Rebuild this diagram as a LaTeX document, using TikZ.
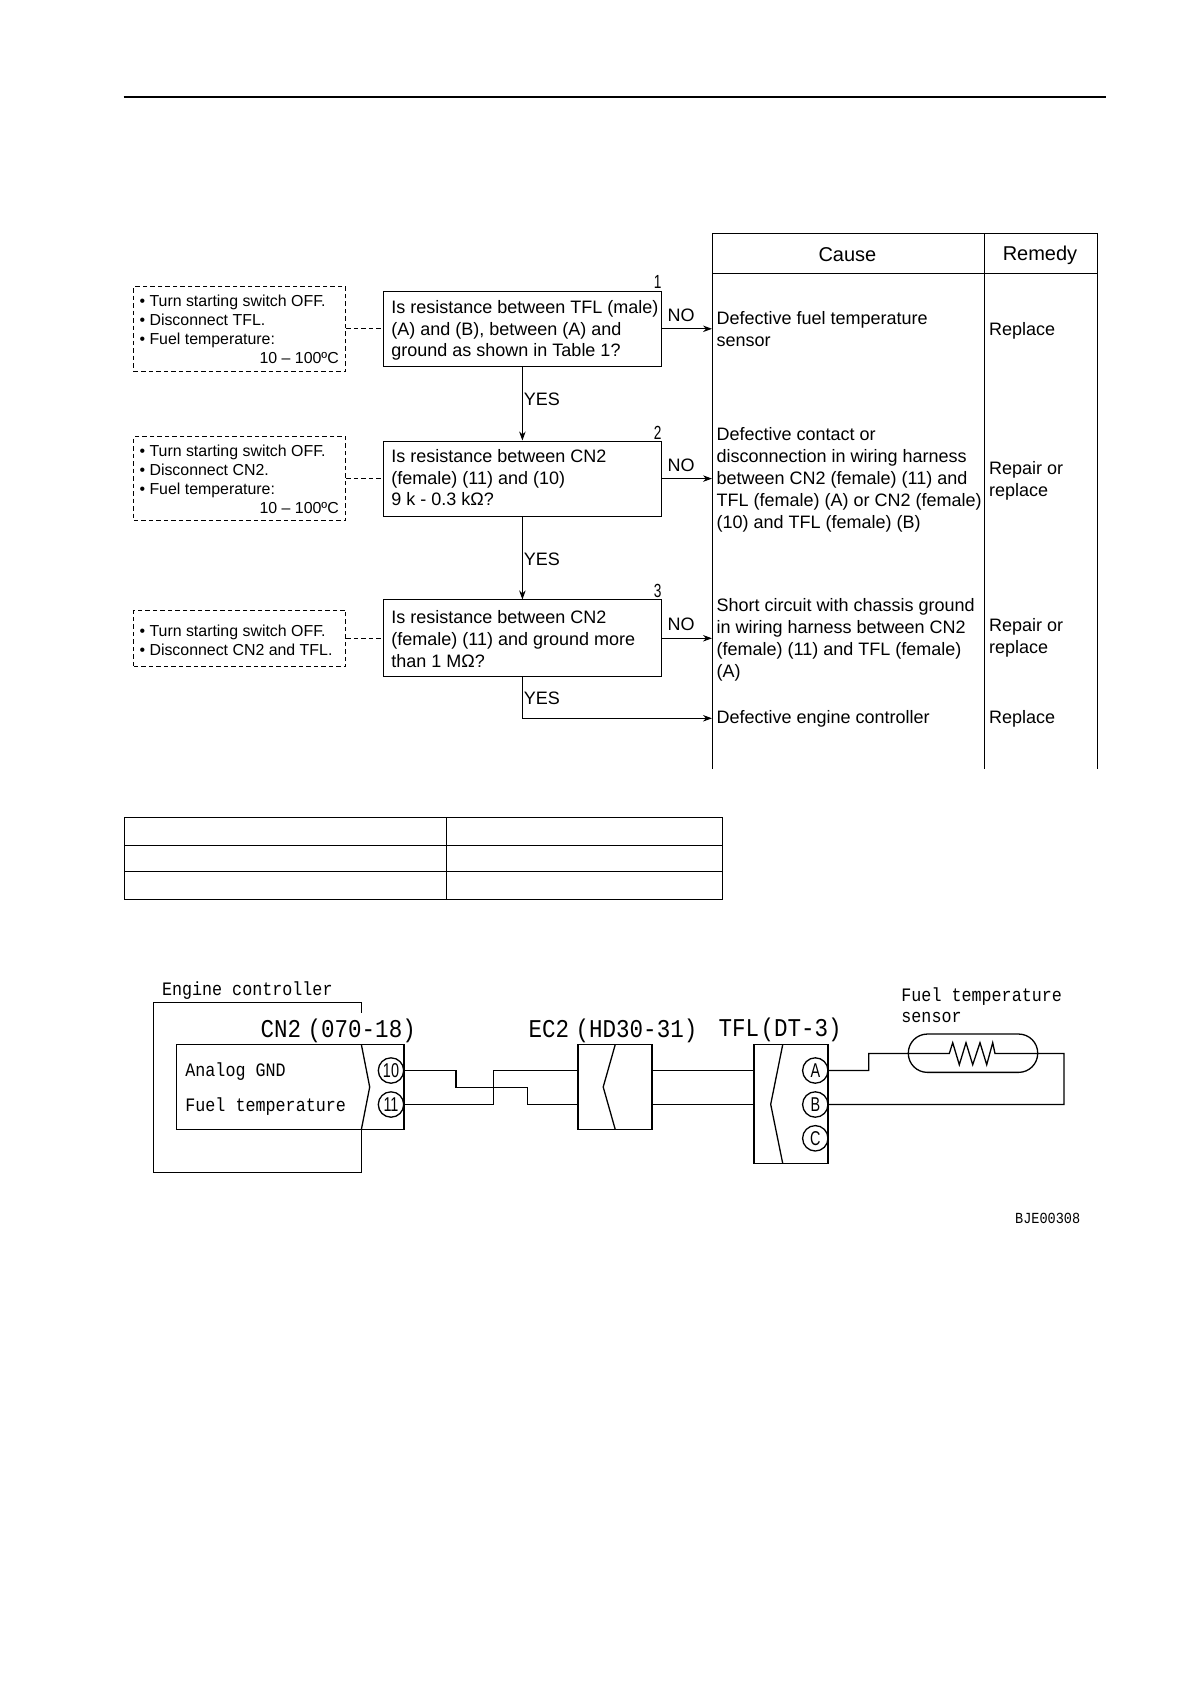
\documentclass[tikz,border=0pt]{standalone}
\usepackage{fontspec}
\setmainfont{Liberation Sans}
\newfontfamily\cadfont[FakeStretch=.88]{Liberation Mono}
\usetikzlibrary{arrows.meta}

\newcommand{\narrowtxt}[1]{\scalebox{.72}[1]{#1}}

\tikzset{
  ftbox/.style={draw, line width=1pt, minimum width=278.2pt, minimum height=75.2pt, inner sep=0pt},
  ftnote/.style={draw, dashed, dash pattern=on 4.5pt off 3pt, line width=.9pt, minimum width=212pt, inner sep=0pt},
  fttext/.style={anchor=west, align=left, inner sep=0pt, font=\fontsize{18}{21.9}\selectfont},
  ftnotetext/.style={anchor=west, align=left, inner sep=0pt, font=\fontsize{15.9}{19}\selectfont},
  ftnum/.style={inner sep=0pt, font=\fontsize{19}{20}\selectfont},
  ftarr/.style={-{Stealth[length=9pt,width=6.5pt]}, line width=1pt},
  ftdash/.style={dashed, dash pattern=on 4.5pt off 3pt, line width=.9pt},
  ftline/.style={line width=1pt},
  wire/.style={line width=1.3pt},
  wirebox/.style={draw, line width=1.4pt, inner sep=0pt},
  pincirc/.style={circle, draw, line width=1.3pt, minimum size=25.4pt, inner sep=0pt, font=\fontsize{20}{20}\selectfont},
  cadbig/.style={anchor=west, inner sep=0pt, font=\cadfont\fontsize{25.6}{26}\selectfont},
  cadsmall/.style={anchor=west, inner sep=0pt, font=\cadfont\fontsize{19}{20}\selectfont},
  cadtiny/.style={anchor=west, inner sep=0pt, font=\cadfont\fontsize{15.4}{16}\selectfont}
}

\begin{document}
\begin{tikzpicture}[x=1pt,y=-1pt]
        \useasboundingbox (0,0) rectangle (1190,1684);
        \draw[line width=1.6pt] (123.5,96.7) -- (1106,96.7);

        % cause and remedy columns
        \coordinate (colL) at (712,233);
        \coordinate (colM) at (984,233);
        \coordinate (colR) at (1097.6,233);
        \draw[ftline] (colL |- 0,769) -- (colL) -- (colR) -- (colR |- 0,769);
        \draw[ftline] (colM) -- (colM |- 0,769);
        \draw[ftline] (colL |- 0,273) -- (colR |- 0,273);
        \node[inner sep=0pt, font=\fontsize{20}{22}\selectfont] (hcause) at (847.4,254.5) {Cause};
        \node[inner sep=0pt, font=\fontsize{20}{22}\selectfont] (hremedy) at (1040,255.5) {Remedy};

        % question boxes
        \node[ftbox] (q1) at (522.4,328.8) {};
        \node[ftbox] (q2) at (522.4,478.6) {};
        \node[ftbox, minimum height=76.7pt] (q3) at (522.4,638.3) {};
        \node[fttext] (q1t) at ([xshift=8.4,yshift=-1.6]q1.west) {Is resistance between TFL (male)\\(A) and (B), between (A) and\\ground as shown in Table 1?};
        \node[fttext] (q2t) at ([xshift=8.4,yshift=1]q2.west) {Is resistance between CN2\\(female) (11) and (10)\\9 k - 0.3 kΩ?};
        \node[fttext] (q3t) at ([xshift=8.4,yshift=-1]q3.west) {Is resistance between CN2\\(female) (11) and ground more\\than 1 MΩ?};
        \foreach \nn/\yy in {1/281.7,2/432.4,3/590.7} {
            \node[ftnum] (num\nn) at (657.7,\yy) {\narrowtxt{\nn}};
        }

        % check notes
        \node[ftnote, minimum height=84.6pt] (n1) at (239.8,329) {};
        \node[ftnote, minimum height=84pt] (n2) at (239.8,478.7) {};
        \node[ftnote, minimum height=56.7pt] (n3) at (239.8,638.3) {};
        \node[ftnotetext] (n1t) at ([xshift=6]n1.west |- 0,321) {• Turn starting switch OFF.\\• Disconnect TFL.\\• Fuel temperature:};
        \node[ftnotetext] (n2t) at ([xshift=6]n2.west |- 0,471) {• Turn starting switch OFF.\\• Disconnect CN2.\\• Fuel temperature:};
        \node[ftnotetext] (n3t) at ([xshift=6]n3.west |- 0,640) {• Turn starting switch OFF.\\• Disconnect CN2 and TFL.};
        \node[ftnotetext, anchor=east] (n1r) at (339,357.7) {10 – 100ºC};
        \node[ftnotetext, anchor=east] (n2r) at (339,507.7) {10 – 100ºC};

        \foreach \nn in {1,2,3} {
            \draw[ftdash] (n\nn.east |- q\nn.west) -- (q\nn.west);
            \draw[ftarr] (q\nn.east) -- (q\nn.east -| colL);
            \node[fttext] (no\nn) at ([xshift=5.4,yshift=13.6]q\nn.east) {NO};
        }

        % yes branches
        \draw[ftarr] (q1.south) -- (q2.north);
        \draw[ftarr] (q2.south) -- (q3.north);
        \coordinate (qend) at (colL |- 0,718.3);
        \draw[ftarr] (q3.south) |- (qend);
        \node[fttext] (yes1) at (523.6,399) {YES};
        \node[fttext] (yes2) at (523.6,559.5) {YES};
        \node[fttext] (yes3) at (523.6,698.2) {YES};

        % causes
        \node[fttext] (c1) at (716.4,328.7) {Defective fuel temperature\\sensor};
        \node[fttext] (c2) at (716.4,480) {Defective contact or\\disconnection in wiring harness\\between CN2 (female) (11) and\\TFL (female) (A) or CN2 (female)\\(10) and TFL (female) (B)};
        \node[fttext] (c3) at (716.4,639.8) {Short circuit with chassis ground\\in wiring harness between CN2\\(female) (11) and TFL (female)\\(A)};
        \node[fttext] (c4) at (716.4,718.7) {Defective engine controller};
        \node[fttext] (r1) at (989,330.7) {Replace};
        \node[fttext] (r2) at (989,480.4) {Repair or\\replace};
        \node[fttext] (r3) at (989,638) {Repair or\\replace};
        \node[fttext] (r4) at (989,718.7) {Replace};

        % table 1
        \draw[line width=1.1pt] (124.2,817.7) rectangle (722.5,899.3);
        \draw[line width=1.1pt] (124.2,845.7) -- (722.5,845.7);
        \draw[line width=1.1pt] (124.2,871.3) -- (722.5,871.3);
        \draw[line width=1.1pt] (446.5,817.7) -- (446.5,899.3);

        % engine controller
        \draw[wire] (361.4,1012.7) -- (361.4,1002.3) -- (153.8,1002.3) -- (153.8,1172.5) -- (361.4,1172.5) -- (361.4,1129.3);
        \node[cadsmall] (ecname) at (161.8,991) {Engine controller};
        \node[wirebox, minimum width=227.5pt, minimum height=84.6pt] (cn2) at (290.2,1087) {};
        \draw[wire] (361.4,1044.7) -- (369.7,1087) -- (361.4,1129.3);
        \node[cadbig] (cn2name) at (260.5,1030.5) {CN2\hspace{.25em}(070-18)};
        \node[cadsmall] (agnd) at (185.2,1072) {Analog GND};
        \node[cadsmall] (ftemp) at (185.2,1106.7) {Fuel temperature};
        \node[pincirc] (p10) at (391,1070.5) {\narrowtxt{10}};
        \node[pincirc] (p11) at (391,1104.5) {\narrowtxt{11}};

        % EC2
        \node[wirebox, minimum width=74pt, minimum height=84.6pt] (ec2) at (615,1087) {};
        \draw[wire] (615.2,1044.7) -- (603.2,1087) -- (615.2,1129.3);
        \node[cadbig] (ec2name) at (528.5,1030.5) {EC2\hspace{.25em}(HD30-31)};

        % TFL
        \node[wirebox, minimum width=74pt, minimum height=118.6pt] (tfl) at (791,1104) {};
        \draw[wire] (782.7,1044.7) -- (770.7,1104.3) -- (782.7,1163.3);
        \node[cadbig] (tflname) at (718.5,1029.8) {TFL\hspace{.05em}(DT-3)};
        \foreach \pin/\yy in {A/1070.5,B/1104.5,C/1138.3} {
            \node[pincirc] (p\pin) at (815.3,\yy) {\narrowtxt{\pin}};
        }

        % wiring
        \coordinate (ecu) at (ec2.west |- p10.east);
        \coordinate (ecl) at (ec2.west |- p11.east);
        \draw[wire] (p10.east) -- (456,1070.5) -- (456,1087.5) -- (527.8,1087.5) -- (527.8,1104.5) -- (ecl);
        \draw[wire] (p11.east) -- (493.3,1104.5) -- (493.3,1070.5) -- (ecu);
        \draw[wire] (ec2.east |- p10.east) -- (tfl.west |- p10.east);
        \draw[wire] (ec2.east |- p11.east) -- (tfl.west |- p11.east);

        % sensor
        \node[draw, line width=1.3pt, rounded corners=19pt, minimum width=129.4pt, minimum height=38.3pt, inner sep=0pt] (sens) at (973,1053.2) {};
        \node[cadsmall] (sens1) at (901.2,997) {Fuel temperature};
        \node[cadsmall] (sens2) at (901.2,1017) {sensor};
        \coordinate (rturn) at (1064,1053.5);
        \draw[wire] (pA.east) -- (868.7,1070.5) -- (868.7,1053.5) -- (949.3,1053.5) -- (952.7,1042.7) -- (959.3,1064.7) -- (966,1042.7) -- (972.7,1064.7) -- (980,1042.7) -- (986.7,1064.7) -- (992.7,1042.7) -- (995,1053.5) -- (rturn) -- (rturn |- pB.east) -- (pB.east);

        \node[cadtiny] (refcode) at (1015,1218.3) {BJE00308};
    \end{tikzpicture}
\end{document}
